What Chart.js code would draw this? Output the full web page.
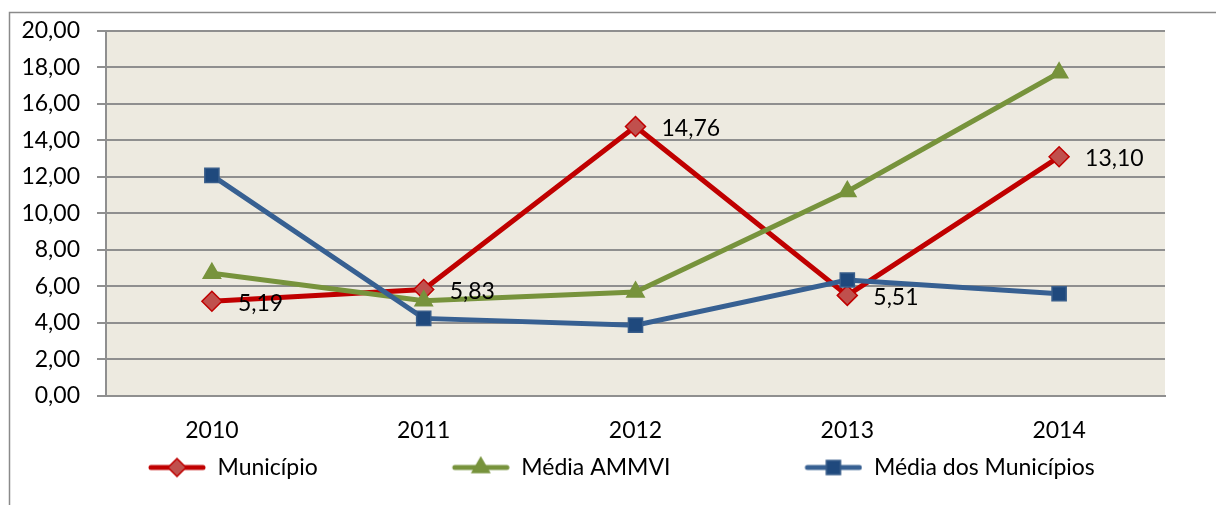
<!DOCTYPE html>
<html>
<head>
<meta charset="utf-8">
<script src="https://cdn.jsdelivr.net/npm/chart.js@4"></script>
<style>
  html, body { margin: 0; padding: 0; background: #fff; }
  #wrap { width: 1216px; height: 505px; }
</style>
</head>
<body>
<div id="wrap"><canvas id="grafico" width="1216" height="505"></canvas></div>
<script>
const anos = ['2010', '2011', '2012', '2013', '2014'];
const municipio = [5.19, 5.83, 14.76, 5.51, 13.10];
const mediaAmmvi = [6.72, 5.22, 5.70, 11.20, 17.70];
const mediaMunicipios = [12.08, 4.25, 3.88, 6.35, 5.60];
const ticksY = [0, 2, 4, 6, 8, 10, 12, 14, 16, 18, 20];

const fonte = 'Lato';
const tam = 23;
const fmt = v => Number(v).toFixed(2).replace('.', ',');

// icone da legenda: espaço vazio à esquerda + linha com marcador
const LARG_ICONE = 182;
function iconeLegenda(cor, estilo, fundo, borda, raio) {
    const c = document.createElement('canvas');
    c.width = LARG_ICONE; c.height = 24;
    const g = c.getContext('2d');
    const x0 = LARG_ICONE - 58, cx = x0 + 29;
    g.strokeStyle = cor; g.lineWidth = 5; g.lineCap = 'round';
    g.beginPath(); g.moveTo(x0 + 3, 12); g.lineTo(x0 + 55, 12); g.stroke();
    g.fillStyle = fundo; g.strokeStyle = borda; g.lineWidth = 1.5;
    g.beginPath();
    if (estilo === 'rectRot') {
        g.moveTo(cx - raio, 12); g.lineTo(cx, 12 - raio); g.lineTo(cx + raio, 12); g.lineTo(cx, 12 + raio);
    } else if (estilo === 'triangle') {
        g.moveTo(cx, 12 - raio); g.lineTo(cx + raio * 0.866, 12 + raio / 2); g.lineTo(cx - raio * 0.866, 12 + raio / 2);
    } else {
        const s = raio * 0.707;
        g.rect(cx - s, 12 - s, 2 * s, 2 * s);
    }
    g.closePath(); g.fill(); g.stroke();
    return c;
}

const icones = [
    iconeLegenda('#C00000', 'rectRot', '#C0504D', '#C00000', 9),
    iconeLegenda('#77933C', 'triangle', '#77933C', '#77933C', 10),
    iconeLegenda('#376092', 'rect', '#1F497D', '#385D8A', 10)
];

const fundoPlot = {
    id: 'fundoPlot',
    beforeDraw(chart) {
        const { ctx, chartArea: a } = chart;
        ctx.save();
        ctx.fillStyle = '#fff';
        ctx.fillRect(0, 0, chart.width, chart.height);
        ctx.fillStyle = '#EDEAE0';
        ctx.fillRect(a.left, a.top, a.right - a.left, a.bottom - a.top);
        ctx.strokeStyle = '#8a8a8a';
        ctx.lineWidth = 1.5;
        ctx.strokeRect(9.5, 12.5, 1400, 700);
        ctx.restore();
    }
};

const rotulos = {
    id: 'rotulos',
    afterDatasetsDraw(chart) {
        const { ctx } = chart;
        const meta = chart.getDatasetMeta(0);
        ctx.save();
        ctx.font = tam + 'px ' + fonte;
        ctx.fillStyle = '#000';
        ctx.textAlign = 'left';
        ctx.textBaseline = 'middle';
        meta.data.forEach((p, i) => {
            ctx.fillText(fmt(municipio[i]), p.x + 26, p.y + 2);
        });
        ctx.restore();
    }
};

new Chart(document.getElementById('grafico'), {
    type: 'line',
    data: {
        labels: anos,
        datasets: [
            {
                label: 'Município', data: municipio, order: 3,
                borderColor: '#C00000', borderWidth: 5,
                pointStyle: 'rectRot', pointRadius: 10,
                pointBackgroundColor: '#C0504D', pointBorderColor: '#C00000', pointBorderWidth: 1.5
            },
            {
                label: 'Média AMMVI', data: mediaAmmvi, order: 2,
                borderColor: '#77933C', borderWidth: 5,
                pointStyle: 'triangle', pointRadius: 10,
                pointBackgroundColor: '#77933C', pointBorderColor: '#77933C', pointBorderWidth: 1.5
            },
            {
                label: 'Média dos Municípios', data: mediaMunicipios, order: 1,
                borderColor: '#376092', borderWidth: 5,
                pointStyle: 'rect', pointRadius: 10,
                pointBackgroundColor: '#1F497D', pointBorderColor: '#385D8A', pointBorderWidth: 1.5
            }
        ]
    },
    options: {
        responsive: false,
        animation: false,
        layout: { padding: { top: 29, right: 51, left: 14, bottom: 16 } },
        elements: { line: { tension: 0 } },
        scales: {
            x: {
                offset: true,
                grid: { display: false },
                border: { display: true, color: '#8f8f8f', width: 2 },
                ticks: { color: '#000', font: { family: fonte, size: tam }, padding: 13 },
                afterFit(s) { s.height = 50; }
            },
            y: {
                min: 0, max: 20,
                afterBuildTicks(s) { s.ticks = ticksY.map(v => ({ value: v })); },
                grid: { color: '#8f8f8f', lineWidth: 2, tickLength: 9 },
                border: { display: true, color: '#8f8f8f', width: 2 },
                ticks: { color: '#000', font: { family: fonte, size: tam }, padding: 17, autoSkip: false, callback: v => fmt(v) },
                afterFit(s) { s.width = 92; }
            }
        },
        plugins: {
            tooltip: { enabled: false },
            legend: {
                position: 'bottom',
                align: 'start',
                labels: {
                    color: '#000',
                    font: { family: fonte, size: tam },
                    usePointStyle: true,
                    pointStyleWidth: LARG_ICONE,
                    padding: 10,
                    sort: (a, b) => a.datasetIndex - b.datasetIndex,
                    generateLabels(chart) {
                        const itens = Chart.defaults.plugins.legend.labels.generateLabels(chart);
                        itens.forEach(it => { it.pointStyle = icones[it.datasetIndex]; });
                        return itens;
                    }
                }
            }
        }
    },
    plugins: [fundoPlot, rotulos]
});
</script>
</body>
</html>
